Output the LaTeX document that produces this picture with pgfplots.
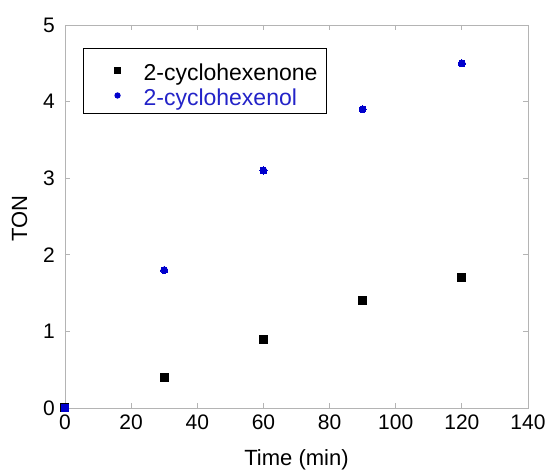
\documentclass[border=0pt]{standalone}
\usepackage{fontspec}
\setmainfont{Liberation Sans}
\usepackage{pgfplots}
\pgfplotsset{compat=1.18}
\definecolor{axgray}{RGB}{180,180,180}
\definecolor{myblue}{RGB}{0,0,205}
\definecolor{txtblue}{RGB}{35,35,200}
\begin{document}
\fontsize{21}{25}\selectfont
\begin{tikzpicture}
\begin{axis}[
  name=ax,
  scale only axis, width=463pt, height=383pt,
  xmin=0, xmax=140, ymin=0, ymax=5,
  xtick={0,20,...,140}, ytick={0,1,...,5},
  axis line style={axgray, line width=0.8pt},
  every tick/.style={axgray, line width=0.8pt},
  major tick length=5pt,
  tick align=inside,
  /pgf/number format/assume math mode=true,
  ticklabel style={font=\fontsize{21}{25}\selectfont, text=black},
  yticklabel style={xshift=-3pt},
  xlabel={Time (min)}, ylabel={TON},
  label style={font=\fontsize{22}{26}\selectfont},
  xlabel style={at={(axis description cs:0.5,-0.136)}, anchor=center},
  ylabel style={at={(axis description cs:-0.098,0.495)}, anchor=center},
  legend style={at={(0.039,0.94)}, anchor=north west, draw=black, line width=1pt,
    font=\fontsize{23}{27}\selectfont, inner xsep=9pt, inner ysep=5pt, row sep=5.4pt,
    nodes={inner sep=0pt}},
  legend cell align=left,
  clip=false,
]
\addplot[only marks, mark=square*, mark size=4pt, mark options={fill=black, draw=black, line width=0pt},
  legend image code/.code={\path[draw=none] (-25pt,19.8pt) -- (26pt,0pt);
    \fill[black] (-3pt,0pt) rectangle (3pt,6pt);}]
  coordinates {(0,0) (30,0.4) (60,0.9) (90,1.4) (120,1.7)};
\addlegendentry{2-cyclohexenone}
\addplot[only marks, mark=*, mark size=3.6pt, mark options={fill=myblue, draw=myblue, line width=0pt},
  legend image code/.code={\path[draw=none] (-25pt,0pt) -- (26pt,0pt);
    \fill[myblue] (0pt,3pt) circle (2.6pt);}]
  coordinates {(0,0) (30,1.8) (60,3.1) (90,3.9) (120,4.5)};
\addlegendentry{\textcolor{txtblue}{2-cyclohexenol}}
\addplot[forget plot, only marks, mark=square*, mark size=3.8pt, mark options={fill=myblue, draw=myblue, line width=0pt}]
  coordinates {(0,0)};
\end{axis}
\pgfresetboundingbox
\path[use as bounding box] ([shift={(-65pt,-65pt)}]ax.south west) rectangle ([shift={(21pt,25pt)}]ax.north east);
\end{tikzpicture}
\end{document}
